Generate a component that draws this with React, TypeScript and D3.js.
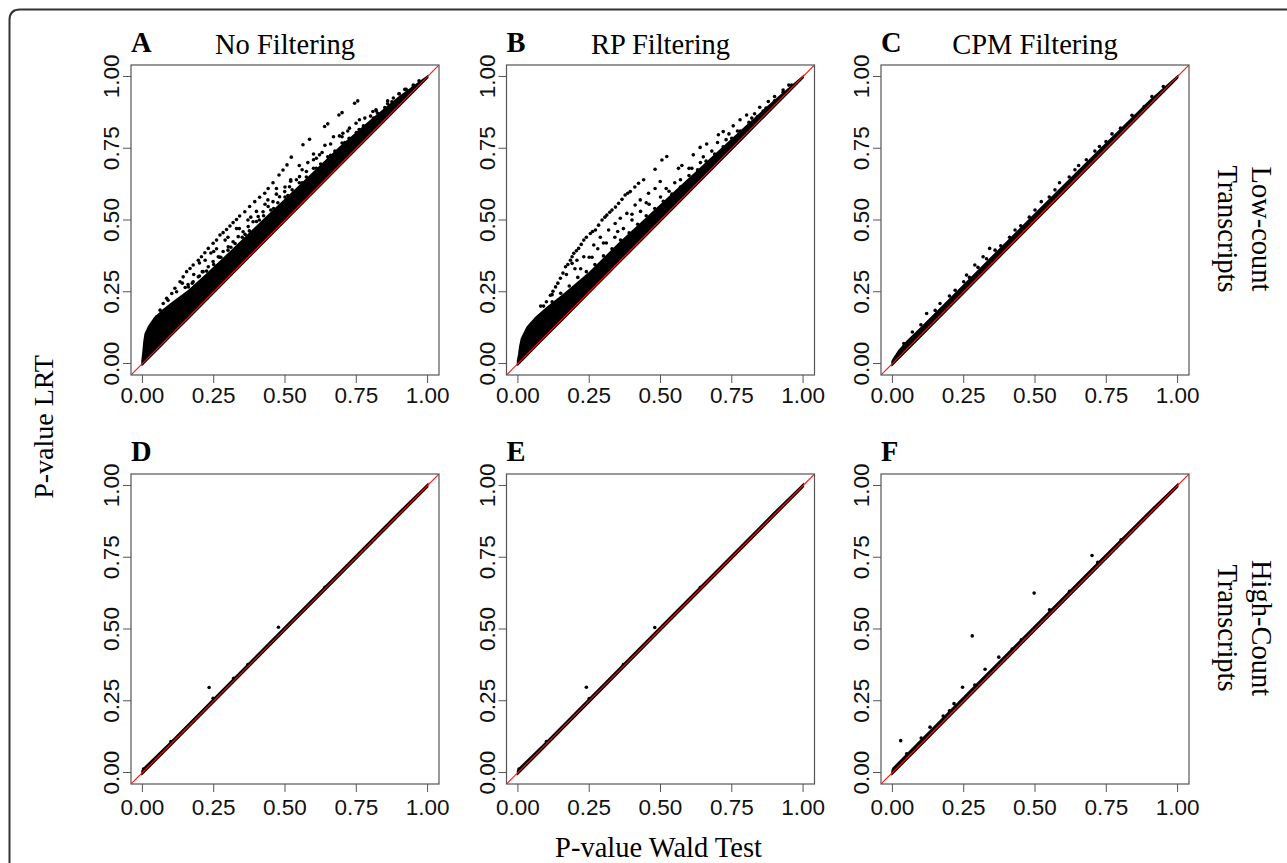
import * as d3 from 'd3';

// axis ticks shared by every panel
const tickValues = [0, 0.25, 0.5, 0.75, 1];
const tickLabels = ['0.00', '0.25', '0.50', '0.75', '1.00'];

const panelLetters = ['A', 'B', 'C', 'D', 'E', 'F'];
const panelTitles = ['No Filtering', 'RP Filtering', 'CPM Filtering', '', '', ''];
const rowLabels = [
  ['Low-count', 'Transcripts'],
  ['High-Count', 'Transcripts']
];

// dense part of each cloud: [wald p, lowest LRT p, highest LRT p]
const bandA: [number, number, number][] = [
  [-0.004, -0.008, 0.01], [0, -0.008, 0.045], [0.003, -0.005, 0.078], [0.007, -0.001, 0.104],
  [0.02, 0.012, 0.132], [0.04, 0.032, 0.16], [0.07, 0.062, 0.188], [0.1, 0.092, 0.212],
  [0.16, 0.152, 0.256], [0.22, 0.212, 0.31], [0.3, 0.292, 0.385], [0.42, 0.412, 0.5],
  [0.55, 0.542, 0.622], [0.69, 0.682, 0.755], [0.8, 0.792, 0.85], [0.9, 0.892, 0.932],
  [1.003, 0.995, 1.007]
];
const bandB: [number, number, number][] = [
  [-0.004, -0.008, 0.01], [0, -0.008, 0.03], [0.004, -0.004, 0.06], [0.01, 0.002, 0.088],
  [0.03, 0.022, 0.128], [0.06, 0.052, 0.162], [0.1, 0.092, 0.197], [0.16, 0.152, 0.244],
  [0.25, 0.242, 0.32], [0.35, 0.342, 0.418], [0.45, 0.442, 0.51], [0.55, 0.542, 0.602],
  [0.69, 0.682, 0.73], [0.8, 0.792, 0.83], [0.9, 0.892, 0.92], [1.003, 0.995, 1.007]
];
const bandC: [number, number, number][] = [
  [-0.004, -0.01, 0.008], [0, -0.009, 0.016], [0.02, 0.011, 0.046], [0.05, 0.041, 0.08],
  [0.1, 0.091, 0.128], [0.2, 0.191, 0.227], [0.3, 0.291, 0.327], [0.4, 0.391, 0.426],
  [0.5, 0.491, 0.525], [0.6, 0.591, 0.624], [0.7, 0.691, 0.722], [0.8, 0.791, 0.82],
  [0.9, 0.891, 0.917], [1.003, 0.994, 1.008]
];
const bandD: [number, number, number][] = [
  [-0.004, -0.01, 0.006], [0, -0.009, 0.014], [0.1, 0.091, 0.111], [0.3, 0.291, 0.311],
  [0.5, 0.491, 0.511], [0.7, 0.691, 0.711], [0.9, 0.891, 0.911], [1.003, 0.994, 1.01]
];
const bandE: [number, number, number][] = [
  [-0.004, -0.01, 0.006], [0, -0.009, 0.014], [0.1, 0.091, 0.111], [0.3, 0.291, 0.311],
  [0.5, 0.491, 0.511], [0.7, 0.691, 0.711], [0.9, 0.891, 0.911], [1.003, 0.994, 1.01]
];
const bandF: [number, number, number][] = [
  [-0.004, -0.01, 0.006], [0, -0.009, 0.017], [0.1, 0.091, 0.117], [0.3, 0.291, 0.316],
  [0.5, 0.491, 0.515], [0.7, 0.691, 0.714], [0.9, 0.891, 0.912], [1.003, 0.994, 1.01]
];

// sparse points above the dense part: [wald p, LRT p]
const dotsA: [number, number][] = [
  // outer streak
  [0.038, 0.134], [0.05, 0.163], [0.062, 0.186], [0.073, 0.209], [0.085, 0.227], [0.103, 0.244],
  [0.114, 0.262], [0.132, 0.285], [0.143, 0.302], [0.155, 0.32], [0.167, 0.331], [0.178, 0.343],
  [0.196, 0.36], [0.207, 0.372], [0.219, 0.386], [0.231, 0.401], [0.248, 0.419], [0.26, 0.43],
  [0.272, 0.448], [0.283, 0.456], [0.295, 0.467], [0.307, 0.479], [0.318, 0.491], [0.33, 0.502],
  [0.341, 0.514], [0.359, 0.529], [0.376, 0.547], [0.394, 0.564], [0.411, 0.579], [0.429, 0.593],
  [0.441, 0.61], [0.458, 0.63], [0.479, 0.657], [0.493, 0.674], [0.507, 0.692], [0.522, 0.719],
  [0.563, 0.762], [0.586, 0.781], [0.639, 0.826], [0.65, 0.835], [0.689, 0.866], [0.7, 0.874],
  [0.744, 0.907], [0.755, 0.915],
  // second streak
  [0.819, 0.884], [0.808, 0.878], [0.761, 0.849], [0.749, 0.837], [0.726, 0.82], [0.703, 0.802],
  [0.691, 0.793], [0.621, 0.727], [0.61, 0.715], [0.575, 0.669], [0.551, 0.651], [0.54, 0.64],
  [0.516, 0.616], [0.499, 0.599], [0.481, 0.581], [0.458, 0.564], [0.441, 0.547], [0.423, 0.529],
  [0.406, 0.512], [0.388, 0.494], [0.371, 0.477], [0.353, 0.459], [0.336, 0.442], [0.318, 0.424],
  [0.301, 0.407], [0.283, 0.39], [0.266, 0.372], [0.248, 0.355], [0.231, 0.337], [0.213, 0.32],
  [0.196, 0.302], [0.178, 0.285], [0.161, 0.267],
  // between streaks
  [0.25, 0.39], [0.29, 0.43], [0.33, 0.47], [0.37, 0.5], [0.44, 0.57], [0.52, 0.64], [0.6, 0.73],
  [0.67, 0.79], [0.55, 0.69], [0.47, 0.61], [0.12, 0.25], [0.09, 0.22], [0.14, 0.28], [0.18, 0.31],
  [0.22, 0.36], [0.58, 0.7], [0.64, 0.76],
  // rough edge of the dense part
  [0.15, 0.265], [0.175, 0.28], [0.2, 0.305], [0.225, 0.322], [0.25, 0.345], [0.275, 0.37],
  [0.3, 0.395], [0.325, 0.418], [0.35, 0.44], [0.375, 0.462], [0.4, 0.495], [0.425, 0.515],
  [0.45, 0.535], [0.475, 0.56], [0.5, 0.58], [0.525, 0.605], [0.55, 0.63], [0.575, 0.65],
  [0.6, 0.68], [0.625, 0.695], [0.65, 0.72], [0.675, 0.74], [0.7, 0.768], [0.725, 0.785],
  [0.75, 0.805], [0.775, 0.828], [0.8, 0.862], [0.825, 0.872], [0.85, 0.892], [0.875, 0.912],
  [0.9, 0.94], [0.925, 0.955], [0.95, 0.967],
  [0.16, 0.275], [0.21, 0.32], [0.27, 0.37], [0.31, 0.405], [0.36, 0.45], [0.41, 0.5],
  [0.46, 0.54], [0.51, 0.585], [0.56, 0.63], [0.61, 0.68], [0.66, 0.725], [0.71, 0.77],
  [0.76, 0.815], [0.81, 0.855], [0.86, 0.905],
  [0.2, 0.35], [0.24, 0.385], [0.26, 0.4], [0.3, 0.44], [0.34, 0.47], [0.38, 0.51], [0.4, 0.53],
  [0.43, 0.555], [0.47, 0.59], [0.5, 0.615], [0.52, 0.635], [0.56, 0.675], [0.6, 0.71],
  [0.63, 0.735], [0.66, 0.765], [0.7, 0.79], [0.72, 0.81], [0.78, 0.855], [0.82, 0.88],
  [0.86, 0.915], [0.88, 0.925], [0.9, 0.94], [0.92, 0.955], [0.95, 0.97], [0.97, 0.985]
];
const dotsB: [number, number][] = [
  // outer streak
  [0.09, 0.2], [0.1, 0.215], [0.114, 0.238], [0.123, 0.252], [0.132, 0.267], [0.14, 0.28],
  [0.149, 0.297], [0.158, 0.315], [0.167, 0.337], [0.175, 0.345], [0.184, 0.36], [0.19, 0.372],
  [0.196, 0.384], [0.205, 0.393], [0.213, 0.401], [0.222, 0.415], [0.231, 0.43], [0.24, 0.44],
  [0.254, 0.453], [0.262, 0.46], [0.272, 0.465], [0.283, 0.482], [0.295, 0.5], [0.305, 0.51],
  [0.312, 0.517], [0.322, 0.527], [0.33, 0.535], [0.342, 0.545], [0.353, 0.558], [0.365, 0.572],
  [0.376, 0.587], [0.385, 0.593], [0.394, 0.599], [0.41, 0.615], [0.423, 0.628], [0.441, 0.64],
  [0.481, 0.677], [0.505, 0.709], [0.522, 0.721],
  // second streak
  [0.19, 0.349], [0.207, 0.36], [0.231, 0.372], [0.266, 0.413], [0.289, 0.44], [0.318, 0.465],
  [0.341, 0.488], [0.359, 0.506], [0.382, 0.523], [0.411, 0.552], [0.429, 0.57], [0.458, 0.593],
  [0.481, 0.61], [0.499, 0.634], [0.563, 0.68], [0.575, 0.69], [0.615, 0.727], [0.639, 0.753],
  [0.662, 0.765], [0.703, 0.797], [0.72, 0.808], [0.755, 0.828], [0.779, 0.849], [0.802, 0.866],
  [0.848, 0.893], [0.878, 0.913], [0.93, 0.953],
  // mid layer
  [0.22, 0.33], [0.26, 0.37], [0.28, 0.4], [0.31, 0.42], [0.34, 0.44], [0.37, 0.47], [0.4, 0.5],
  [0.43, 0.53], [0.46, 0.555], [0.5, 0.58], [0.53, 0.6], [0.57, 0.64], [0.61, 0.68], [0.64, 0.7],
  [0.68, 0.74], [0.73, 0.78], [0.77, 0.81], [0.82, 0.855], [0.86, 0.88],
  [0.3, 0.42], [0.35, 0.46], [0.4, 0.52], [0.45, 0.56], [0.52, 0.61], [0.55, 0.63], [0.6, 0.68],
  [0.65, 0.72], [0.7, 0.77], [0.74, 0.8], [0.83, 0.87], [0.9, 0.93], [0.95, 0.97], [0.25, 0.37],
  [0.2, 0.33], [0.17, 0.31], [0.12, 0.24], [0.08, 0.2],
  // rough edge of the dense part
  [0.12, 0.215], [0.15, 0.245], [0.18, 0.27], [0.21, 0.3], [0.24, 0.32], [0.27, 0.345],
  [0.3, 0.375], [0.33, 0.4], [0.36, 0.43], [0.39, 0.455], [0.42, 0.485], [0.45, 0.515],
  [0.48, 0.54], [0.51, 0.565], [0.54, 0.59], [0.57, 0.615], [0.6, 0.655], [0.63, 0.675],
  [0.66, 0.705], [0.69, 0.73], [0.72, 0.755], [0.75, 0.785], [0.78, 0.81], [0.81, 0.84],
  [0.84, 0.86], [0.87, 0.89], [0.9, 0.915], [0.93, 0.945], [0.96, 0.97]
];
const dotsC: [number, number][] = [
  [0.653, 0.69], [0.586, 0.63], [0.522, 0.564], [0.341, 0.401], [0.318, 0.372], [0.289, 0.343],
  [0.26, 0.308], [0.167, 0.209], [0.12, 0.174], [0.726, 0.756], [0.749, 0.773], [0.883, 0.895],
  [0.411, 0.44], [0.45, 0.48], [0.38, 0.41], [0.22, 0.255], [0.07, 0.11], [0.04, 0.07],
  [0.55, 0.58], [0.62, 0.65], [0.8, 0.82], [0.95, 0.965], [0.33, 0.365], [0.27, 0.3],
  [0.48, 0.51], [0.68, 0.71], [0.1, 0.135], [0.15, 0.185], [0.2, 0.235], [0.25, 0.285], [0.3, 0.335],
  [0.36, 0.395], [0.43, 0.465], [0.5, 0.535], [0.57, 0.605], [0.64, 0.675], [0.71, 0.74], [0.77, 0.8],
  [0.84, 0.865], [0.91, 0.93]
];
const dotsD: [number, number][] = [
  [0.234, 0.296], [0.477, 0.506], [0.248, 0.259], [0.64, 0.645], [0.004, 0.012], [0.1, 0.108],
  [0.37, 0.376], [0.32, 0.328]
];
const dotsE: [number, number][] = [
  [0.24, 0.297], [0.48, 0.505], [0.25, 0.258], [0.64, 0.645], [0.004, 0.012], [0.1, 0.108],
  [0.37, 0.376]
];
const dotsF: [number, number][] = [
  [0.029, 0.111], [0.28, 0.476], [0.497, 0.625], [0.7, 0.756], [0.246, 0.297], [0.325, 0.36],
  [0.373, 0.402], [0.216, 0.24], [0.132, 0.158], [0.101, 0.12], [0.178, 0.197], [0.289, 0.305],
  [0.452, 0.462], [0.551, 0.567], [0.621, 0.631], [0.72, 0.732], [0.802, 0.811], [0.05, 0.065],
  [0.2, 0.215], [0.42, 0.43]
];

const bands = [bandA, bandB, bandC, bandD, bandE, bandF];
const dots = [dotsA, dotsB, dotsC, dotsD, dotsE, dotsF];

const W = 1287;
const H = 863;
const colLeft = [131, 506.5, 881];
const rowTop = [65, 474];
const boxW = 308;
const boxH = 310;
const labelGap = [28, 31];

const serif = '"Liberation Serif", "Times New Roman", serif';
const sans = '"Liberation Sans", Arial, sans-serif';

function Panel({ i }) {
  const row = Math.floor(i / 3);
  const col = i % 3;
  const left = colLeft[col];
  const top = rowTop[row];
  const x = d3.scaleLinear().domain([-0.04, 1.04]).range([left, left + boxW]);
  const y = d3.scaleLinear().domain([-0.04, 1.04]).range([top + boxH, top]);

  const area = d3
    .area<[number, number, number]>()
    .x((d) => x(d[0]))
    .y0((d) => y(d[1]))
    .y1((d) => y(d[2]));

  const clipId = `clip-${i}`;

  return (
    <g>
      <clipPath id={clipId}>
        <rect x={left} y={top} width={boxW} height={boxH} />
      </clipPath>
      <g clipPath={`url(#${clipId})`}>
        <path d={area(bands[i]) || ''} fill='#000' />
        {dots[i].map((d, k) => (
          <circle key={k} cx={x(d[0])} cy={y(d[1])} r={1.8} fill='#000' />
        ))}
        <line x1={x(-0.04)} y1={y(-0.04)} x2={x(1.04)} y2={y(1.04)} stroke='#ff1010' strokeWidth={1.1} />
      </g>
      <rect x={left} y={top} width={boxW} height={boxH} fill='none' stroke='#555' strokeWidth={1.2} />

      {/* x axis */}
      {tickValues.map((t, k) => (
        <g key={'x' + k}>
          <line x1={x(t)} x2={x(t)} y1={top + boxH} y2={top + boxH + 8} stroke='#555' strokeWidth={1} />
          <text
            x={x(t)}
            y={top + boxH + labelGap[row]}
            textAnchor='middle'
            fontFamily={sans}
            fontSize={22.5}
            fill='#111'
          >
            {tickLabels[k]}
          </text>
        </g>
      ))}

      {/* y axis */}
      {tickValues.map((t, k) => (
        <g key={'y' + k}>
          <line x1={left} x2={left - 8} y1={y(t)} y2={y(t)} stroke='#555' strokeWidth={1} />
          <text
            transform={`translate(${left - 12},${y(t)}) rotate(-90)`}
            textAnchor='middle'
            fontFamily={sans}
            fontSize={22.5}
            fill='#111'
          >
            {tickLabels[k]}
          </text>
        </g>
      ))}

      <text x={left} y={top - 13} fontFamily={serif} fontWeight='bold' fontSize={28.5} fill='#000'>
        {panelLetters[i]}
      </text>
      {panelTitles[i] && (
        <text x={left + boxW / 2} y={top - 11} textAnchor='middle' fontFamily={serif} fontSize={28.5} fill='#000'>
          {panelTitles[i]}
        </text>
      )}
    </g>
  );
}

export default function App() {
  const rowCenter = [229, 628];
  return (
    <svg
      width={W}
      height={H}
      style={{ position: 'absolute', left: 0, top: 0, display: 'block', background: '#fff' }}
    >
      <rect x={0} y={0} width={W} height={H} fill='#fff' />
      <path d={`M9.5,${H + 10} V20 Q9.5,9.5 20,9.5 H${W + 10}`} fill='none' stroke='#333' strokeWidth={2} />

      {panelLetters.map((_, i) => (
        <Panel key={i} i={i} />
      ))}

      {rowLabels.map((lines, r) => (
        <g key={r}>
          <text
            transform={`translate(1252,${rowCenter[r]}) rotate(90)`}
            textAnchor='middle'
            fontFamily={serif}
            fontSize={28.5}
            fill='#000'
          >
            {lines[0]}
          </text>
          <text
            transform={`translate(1218,${rowCenter[r]}) rotate(90)`}
            textAnchor='middle'
            fontFamily={serif}
            fontSize={28.5}
            fill='#000'
          >
            {lines[1]}
          </text>
        </g>
      ))}

      <text
        transform='translate(53,427) rotate(-90)'
        textAnchor='middle'
        fontFamily={serif}
        fontSize={28}
        fill='#000'
      >
        P-value LRT
      </text>
      <text x={658.5} y={857} textAnchor='middle' fontFamily={serif} fontSize={28.5} fill='#000'>
        P-value Wald Test
      </text>
    </svg>
  );
}
